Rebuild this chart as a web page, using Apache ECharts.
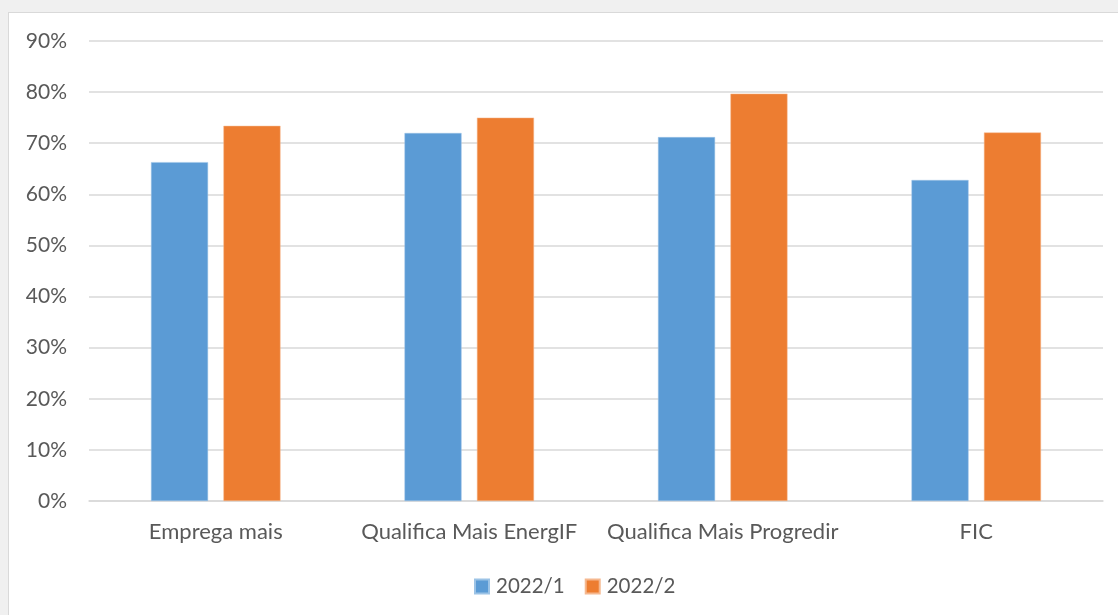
<!DOCTYPE html>
<html>
<head>
<meta charset="utf-8">
<script src="https://cdn.jsdelivr.net/npm/echarts@6/dist/echarts.min.js"></script>
<style>
html,body{margin:0;padding:0;background:#f0f0f0;width:1118px;height:615px;overflow:hidden;}
#c{position:absolute;left:8px;top:12px;width:1110px;height:603px;background:#fff;border-left:1px solid #d9d9d9;border-top:1px solid #d9d9d9;box-sizing:border-box;}
</style>
</head>
<body>
<div id="c"></div>
<script>
const categories = ['Emprega mais', 'Qualifica Mais EnergIF', 'Qualifica Mais Progredir', 'FIC'];
const series1Name = '2022/1';
const series2Name = '2022/2';
const series1 = [0.663, 0.720, 0.712, 0.628];
const series2 = [0.734, 0.750, 0.797, 0.721];

const chart = echarts.init(document.getElementById('c'));
const font = 'Lato, "Open Sans", sans-serif';
chart.setOption({
  animation: false,
  grid: {left: 80, right: 15, top: 28, bottom: 114, containLabel: false},
  legend: {
    bottom: 13, left: 460,
    itemWidth: 14, itemHeight: 14, itemGap: 20,
    icon: 'rect',
    textStyle: {fontFamily: font, fontSize: 20.5, color: '#595959', padding: [0, 0, 0, 2]},
    data: [series1Name, series2Name]
  },
  xAxis: {
    type: 'category', data: categories,
    axisLine: {lineStyle: {color: '#d9d9d9', width: 1.5}},
    axisTick: {show: false},
    axisLabel: {interval: 0, fontFamily: font, fontSize: 22, color: '#595959', margin: 20}
  },
  yAxis: {
    type: 'value', min: 0, max: 0.9, interval: 0.1,
    axisLine: {show: false}, axisTick: {show: false},
    splitLine: {lineStyle: {color: '#d9d9d9', width: 1.5}},
    axisLabel: {fontFamily: font, fontSize: 21, color: '#595959', margin: 22,
      formatter: v => Math.round(v * 100) + '%'}
  },
  series: [
    {name: series1Name, type: 'bar', data: series1, barWidth: '22.5%', barGap: '27%',
     itemStyle: {color: '#5b9bd5', borderColor: '#9cc3e6', borderWidth: 0.5}},
    {name: series2Name, type: 'bar', data: series2, barWidth: '22.5%', barGap: '27%',
     itemStyle: {color: '#ed7d31', borderColor: '#f5b88f', borderWidth: 0.5}}
  ]
});
</script>
</body>
</html>
